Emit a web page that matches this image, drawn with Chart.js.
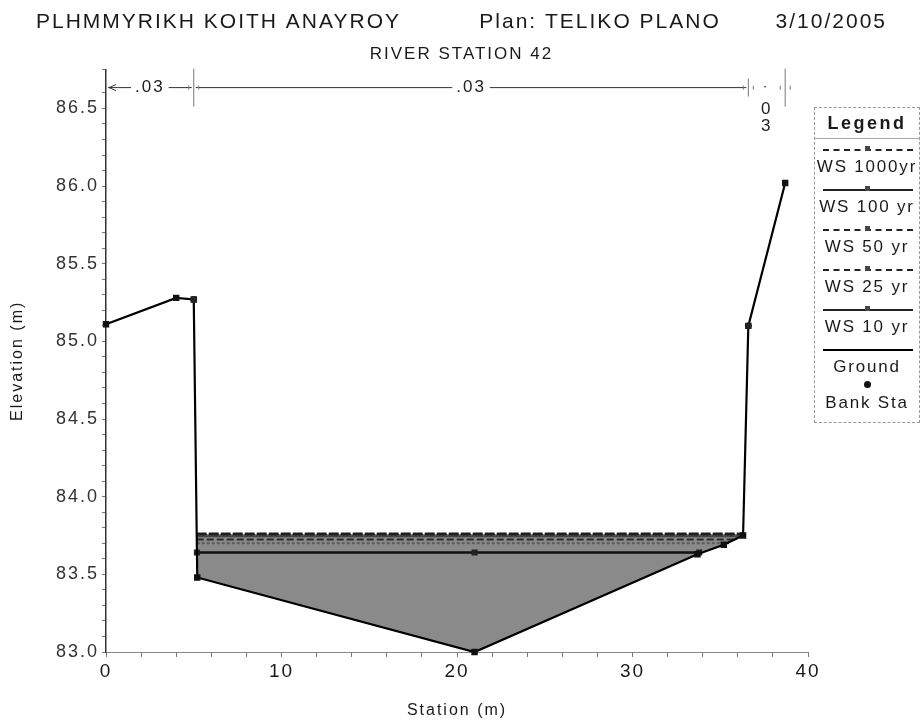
<!DOCTYPE html>
<html>
<head>
<meta charset="utf-8">
<script src="https://cdn.jsdelivr.net/npm/chart.js@4.4.1/dist/chart.umd.min.js"></script>
<style>
  html, body { margin: 0; padding: 0; background: #fff; }
  #wrap { position: relative; width: 923px; height: 720px; }
  #legend {
    position: absolute; left: 814px; top: 107px; width: 106px; height: 316px;
    border: 1px dashed #999; box-sizing: border-box; overflow: hidden;
    font-family: "Liberation Sans", Arial, sans-serif; color: #1a1a1a;
  }
  #legend .head { height: 30px; line-height: 30px; text-align: center; font-weight: bold; font-size: 18px;
    border-bottom: 1px solid #aaa; letter-spacing: 2.5px; }
  #legend .item { height: 40px; position: relative; }
  #legend .line { position: absolute; left: 8px; right: 6px; top: 10px; height: 0; border-top: 2px solid #222; }
  #legend .mark { position: absolute; left: 50%; top: 7px; width: 5px; height: 5px; margin-left: -2px; background: #444; }
  #legend .txt { position: absolute; left: -20px; right: -20px; top: 18px; font-size: 17px; letter-spacing: 1.8px;
    text-align: center; white-space: nowrap; }
</style>
</head>
<body>
<div id="wrap">
  <canvas id="xs" width="923" height="720"></canvas>
  <div id="legend"></div>
</div>
<script>
// ground profile
const groundStation = [0, 4, 5, 5.2, 21, 33.7, 35.2, 36.3, 36.6, 38.7];
const groundElev = [85.11, 85.28, 85.27, 83.48, 83.0, 83.63, 83.69, 83.75, 85.10, 86.02];

// bank stations
const bankStation = [5, 36.6];
const bankElev = [85.27, 85.10];

// water surfaces (left edge, right edge)
const wsNames = ['WS 1000yr', 'WS 100 yr', 'WS 50 yr', 'WS 25 yr', 'WS 10 yr'];
const wsElev = [83.76, 83.745, 83.725, 83.70, 83.64];
const wsLeft = [5.17, 5.17, 5.17, 5.17, 5.18];
const wsRight = [36.35, 36.25, 35.95, 35.5, 33.8];
const wsDash = [[10, 2], [], [7, 3], [3, 2], []];
const wsColor = ['#1e1e1e', '#444', '#2a2a2a', '#5a5a5a', '#111'];
const wsWidth = [3, 2, 2, 2, 2.5];

// manning's n
const nBreaks = [0, 5, 36.6, 38.7];
const nValues = ['.03', '.03', '.03'];

const FONT = '"Liberation Sans", Arial, sans-serif';

const datasets = wsNames.map((name, i) => ({
  label: name,
  data: [{x: wsLeft[i], y: wsElev[i]}, {x: wsRight[i], y: wsElev[i]}],
  borderColor: wsColor[i],
  borderWidth: wsWidth[i],
  borderDash: wsDash[i],
  pointRadius: 0,
  fill: false
}));
// grey water area under the highest profile
datasets[0].fill = {target: wsNames.length, above: '#8a8a8a', below: 'rgba(0,0,0,0)'};
// the lowest profile carries markers at its ends and mid channel
datasets[4].data = [{x: wsLeft[4], y: wsElev[4]}, {x: 21, y: wsElev[4]}, {x: wsRight[4], y: wsElev[4]}];
datasets[4].pointStyle = 'rect';
datasets[4].pointRadius = 2.5;
datasets[4].pointBackgroundColor = '#222';
datasets[4].pointBorderColor = '#222';

datasets.push({
  label: 'Ground',
  data: groundStation.map((s, i) => ({x: s, y: groundElev[i]})),
  borderColor: '#000',
  borderWidth: 2.2,
  pointStyle: 'rect',
  pointRadius: 3,
  pointBackgroundColor: '#111',
  pointBorderColor: '#111',
  fill: false,
  order: -1,
  clip: 6
});
datasets.push({
  label: 'Bank Sta',
  data: bankStation.map((s, i) => ({x: s, y: bankElev[i]})),
  showLine: false,
  pointStyle: 'circle',
  pointRadius: 3,
  pointBackgroundColor: '#222',
  pointBorderColor: '#222',
  order: -2,
  clip: 6
});

// the printed fonts are widely tracked
const tracking = {
  id: 'tracking',
  beforeLayout(chart) { chart.ctx.letterSpacing = '2px'; },
  beforeDraw(chart) { chart.ctx.letterSpacing = '2px'; }
};

// Manning's n strip across the top
const nStrip = {
  id: 'nStrip',
  afterDraw(chart) {
    const {ctx, chartArea, scales: {x}} = chart;
    const y = chartArea.top + 18;
    ctx.save();
    ctx.strokeStyle = '#333';
    ctx.fillStyle = '#222';
    ctx.lineWidth = 1;
    ctx.font = '17px ' + FONT;
    ctx.textAlign = 'center';
    ctx.textBaseline = 'middle';
    for (let i = 0; i < nValues.length; i++) {
      const a = x.getPixelForValue(nBreaks[i]);
      const b = x.getPixelForValue(nBreaks[i + 1]);
      const mid = (a + b) / 2;
      if (b - a > 60) {
        const w = ctx.measureText(nValues[i]).width + 8;
        ctx.beginPath();
        ctx.moveTo(a + 2, y); ctx.lineTo(mid - w / 2, y);
        ctx.moveTo(mid + w / 2, y); ctx.lineTo(b - 2, y);
        ctx.stroke();
        ctx.fillText(nValues[i], mid, y);
      } else {
        // narrow section: write the value downwards
        const chars = nValues[i].replace('.', '');
        ctx.fillText('\u02D9', mid, y + 6);
        for (let k = 0; k < chars.length; k++) ctx.fillText(chars[k], mid, y + 22 + k * 17);
      }
    }
    // arrow at the left edge
    const x0 = x.getPixelForValue(nBreaks[0]);
    ctx.beginPath();
    ctx.moveTo(x0 + 10, y - 3); ctx.lineTo(x0 + 3, y); ctx.lineTo(x0 + 10, y + 3);
    ctx.stroke();
    // bank station ticks
    ctx.strokeStyle = '#777';
    for (let k = 1; k < nBreaks.length; k++) {
      const px = x.getPixelForValue(nBreaks[k]);
      const h = k === 2 ? 9 : 19;
      ctx.beginPath();
      ctx.moveTo(px, y - h); ctx.lineTo(px, y + h);
      ctx.moveTo(px - 5, y - 2); ctx.lineTo(px - 5, y + 2);
      ctx.moveTo(px + 5, y - 2); ctx.lineTo(px + 5, y + 2);
      ctx.stroke();
    }
    ctx.restore();
  }
};

new Chart(document.getElementById('xs'), {
  type: 'line',
  data: {datasets: datasets},
  options: {
    responsive: false,
    animation: false,
    layout: {padding: 0},
    plugins: {
      legend: {display: false},
      tooltip: {enabled: false},
      filler: {drawTime: 'beforeDatasetsDraw'},
      title: {
        display: true,
        text: 'PLHMMYRIKH KOITH ANAYROY          Plan: TELIKO PLANO       3/10/2005',
        color: '#1a1a1a',
        font: {family: FONT, size: 21, weight: 'normal'},
        padding: {top: 10, bottom: 9}
      },
      subtitle: {
        display: true,
        text: 'RIVER STATION 42',
        color: '#1a1a1a',
        font: {family: FONT, size: 17},
        padding: {top: 0, bottom: 5}
      }
    },
    scales: {
      x: {
        type: 'linear',
        min: 0, max: 40,
        afterFit(s) { s.height = 68; },
        border: {color: '#888', width: 1},
        grid: {drawOnChartArea: false, tickLength: 5, color: '#777'},
        ticks: {
          stepSize: 2, autoSkip: false, maxRotation: 0, color: '#1a1a1a',
          font: {family: FONT, size: 19},
          callback: v => (v % 10 === 0 ? String(v) : '')
        },
        title: {display: true, text: 'Station (m)', color: '#1a1a1a', font: {family: FONT, size: 16}, padding: {top: 0, bottom: 0}}
      },
      y: {
        min: 83, max: 86.75,
        afterFit(s) { s.width = 106; },
        border: {color: '#333', width: 1.5},
        grid: {drawOnChartArea: false, tickLength: 4, color: '#777'},
        ticks: {
          stepSize: 0.1, autoSkip: false, maxTicksLimit: 100, color: '#333',
          font: {family: FONT, size: 18},
          callback: v => (Math.abs(v * 2 - Math.round(v * 2)) < 1e-6 ? v.toFixed(1) : '')
        },
        title: {display: true, text: 'Elevation (m)', color: '#1a1a1a', font: {family: FONT, size: 16}, padding: {top: 8, bottom: 0}}
      },
      // empty right-hand scale that keeps room for the legend panel
      side: {
        position: 'right',
        afterFit(s) { s.width = 115; },
        grid: {display: false},
        border: {display: false},
        ticks: {display: false}
      }
    }
  },
  plugins: [tracking, nStrip]
});

// legend box like the program's side panel
const legendEl = document.getElementById('legend');
let html = '<div class="head">Legend</div>';
wsNames.forEach((name, i) => {
  const dash = wsDash[i].length ? 'dashed' : 'solid';
  html += '<div class="item"><div class="line" style="border-top-style:' + dash + '"></div><div class="mark"></div><div class="txt">' + name + '</div></div>';
});
html += '<div class="item"><div class="line" style="border-top-color:#000"></div><div class="txt">Ground</div></div>';
html += '<div class="item" style="height:44px"><div class="mark" style="border-radius:50%;width:7px;height:7px;top:2px;margin-left:-3px;background:#111"></div><div class="txt" style="top:14px">Bank Sta</div></div>';
legendEl.innerHTML = html;
</script>
</body>
</html>
